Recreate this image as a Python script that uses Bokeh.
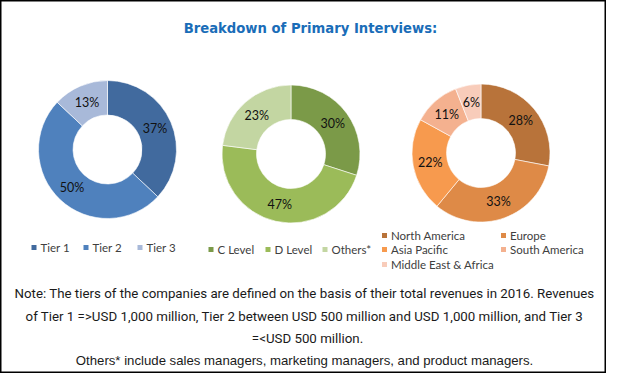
import math
from bokeh.plotting import figure
from bokeh.models import Range1d, ColumnDataSource
from bokeh.core.properties import value
from bokeh.embed import file_html
from bokeh.resources import INLINE

# ---------------- data ----------------
title_text = "Breakdown of Primary Interviews:"

tier_labels = ["Tier 1", "Tier 2", "Tier 3"]
tier_share = [37, 50, 13]
tier_colors = ["#416a9e", "#4f81bd", "#a8b9d9"]

level_labels = ["C Level", "D Level", "Others*"]
level_share = [30, 47, 23]
level_colors = ["#7b9a48", "#9bbb59", "#c3d6a2"]

region_labels = ["North America", "Europe", "Asia Pacific", "South America", "Middle East & Africa"]
region_share = [28, 33, 22, 11, 6]
region_colors = ["#b8733a", "#de8a47", "#f79a4e", "#f4b18f", "#f8ccba"]

note_lines = [
    "Note: The tiers of the companies are defined on the basis of their total revenues in 2016. Revenues",
    "of Tier 1 =>USD 1,000 million, Tier 2 between USD 500 million and USD 1,000 million, and Tier 3",
    "=<USD 500 million.",
]
others_note = "Others* include sales managers, marketing managers, and product managers."

# ---------------- figure ----------------
W, H = 606, 373
p = figure(width=W, height=H, output_backend="svg", toolbar_location=None,
           x_axis_type=None, y_axis_type=None,
           x_range=Range1d(0, W), y_range=Range1d(0, H), min_border=0)
p.grid.visible = False
p.outline_line_color = "black"
p.outline_line_width = 2
p.background_fill_color = "white"
p.border_fill_color = "white"

def Y(ry):
    return H - ry

PCT_FONT = value("Lato")
LEG_FONT = value("Lato")

def donut(cx, cy, shares, colors):
    total = float(sum(shares))
    starts, ends, lx, ly, txt = [], [], [], [], []
    cum = 0.0
    r_mid = (34.5 + 69) / 2.0
    for s in shares:
        a0 = math.pi / 2 - 2 * math.pi * cum / total
        a1 = math.pi / 2 - 2 * math.pi * (cum + s) / total
        starts.append(a0)
        ends.append(a1)
        am = (a0 + a1) / 2
        lx.append(cx + r_mid * math.cos(am))
        ly.append(Y(cy) + r_mid * math.sin(am))
        txt.append(f"{s}%")
        cum += s
    src = ColumnDataSource(dict(x=[cx] * len(shares), y=[Y(cy)] * len(shares),
                                start=starts, end=ends, color=colors))
    p.annular_wedge(x="x", y="y", inner_radius=34.5, outer_radius=69,
                    inner_radius_units="screen", outer_radius_units="screen",
                    start_angle="start", end_angle="end", direction="clock",
                    fill_color="color", line_color="white", line_width=0.6, source=src)
    p.text(x=lx, y=ly, text=txt, text_align="center", text_baseline="middle",
           text_font=PCT_FONT, text_font_size="12.5px", text_color="#111111")

donut(107, 149, tier_share, tier_colors)
donut(290.5, 153.5, level_share, level_colors)
donut(480.5, 152.5, region_share, region_colors)

def legend(xs, ys, labels, colors):
    p.scatter(x=xs, y=[Y(v) for v in ys], marker="square", size=5,
              fill_color=colors, line_color=None)
    p.text(x=[v + 6.5 for v in xs], y=[Y(v) for v in ys], text=labels,
           text_align="left", text_baseline="middle", text_font=LEG_FONT,
           text_font_size="11.5px", text_color="#404040")

legend([33.5, 85.5, 139.5], [247, 247, 247], tier_labels, tier_colors)
legend([210.5, 267.5, 324.5], [249, 249, 249], level_labels, level_colors)
legend([384, 503, 384, 503, 384], [235, 235, 249, 249, 264], region_labels, region_colors)

# title
p.text(x=[310], y=[Y(28)], text=[title_text], text_align="center", text_baseline="middle",
       text_font=value("DejaVu Sans"), text_font_style="bold", text_font_size="13.2px",
       text_color="#1a6db8")

# notes
p.text(x=[304, 304, 307], y=[Y(293), Y(316), Y(338)], text=note_lines,
       text_align="center", text_baseline="middle",
       text_font=value("Roboto"), text_font_size="13.3px", text_color="#1a1a1a")
p.text(x=[304], y=[Y(360)], text=[others_note], text_align="center", text_baseline="middle",
       text_font=value("Liberation Sans"), text_font_size="13.2px", text_color="#1a1a1a")

open("out.html", "w").write(file_html(p, INLINE))
